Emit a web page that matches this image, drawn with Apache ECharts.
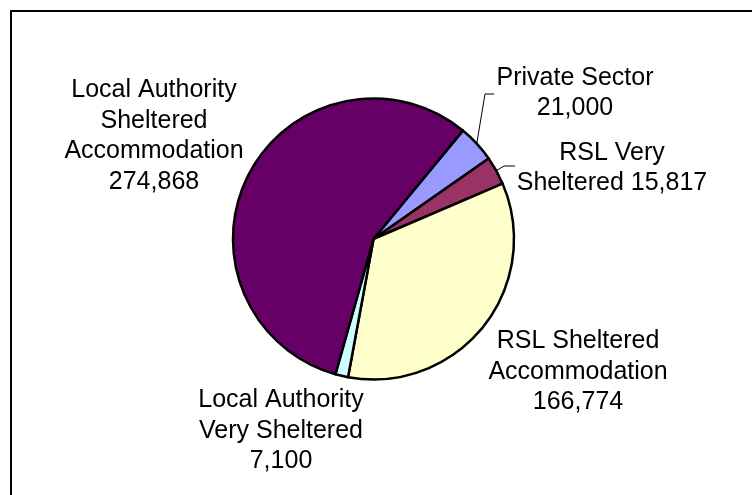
<!DOCTYPE html>
<html>
<head>
	<meta charset="UTF-8" />
	<title>Sheltered accommodation</title>
	<script src="https://cdn.jsdelivr.net/npm/echarts@6.0.0/dist/echarts.min.js"></script>
	<style type="text/css">
		html, body {
			margin: 0;
			padding: 0;
			background-color: #ffffff;
		}

		#chart {
			width: 752px;
			height: 495px;
		}
	</style>
</head>
<body>
	<div id="chart"></div>

	<script>
		// 資料 (順時針, 從 Private Sector 開始)
		const categories = [
			'Private Sector',
			'RSL Very\nSheltered',
			'RSL Sheltered\nAccommodation',
			'Local Authority\nVery Sheltered',
			'Local Authority\nSheltered\nAccommodation'
		];
		const values = [21000, 15817, 166774, 7100, 274868];

		// 樣式
		const colors = ['#9999FF', '#993366', '#FFFFCC', '#CCFFFF', '#660066'];
		// 標籤中心位置
		const labelPos = [[575, 93], [612, 168], [578, 372], [281, 431], [154, 136]];
		// 引線轉折點 (只有前兩個有)
		const leaderPts = [[[485, 94], [494, 94]], [[504, 166], [515, 166]], null, null, null];

		const chart = echarts.init(document.getElementById('chart'));

		chart.setOption({
			animation: false,
			backgroundColor: '#ffffff',
			graphic: [{
				type: 'rect',
				shape: { x: 11, y: 11, width: 800, height: 540 },
				style: { fill: null, stroke: '#000000', lineWidth: 2 },
				silent: true
			}],
			series: [{
				type: 'pie',
				center: [373.5, 239],
				radius: 140.5,
				startAngle: 50.5,
				clockwise: true,
				data: categories.map((name, i) => ({
					name: name,
					value: values[i],
					itemStyle: { color: colors[i] },
					labelLine: { show: leaderPts[i] !== null }
				})),
				itemStyle: {
					borderColor: '#000000',
					borderWidth: 2.5
				},
				emphasis: { disabled: true },
				label: {
					show: true,
					position: 'outside',
					overflow: 'none',
					color: '#000000',
					fontFamily: '"Liberation Sans", Arial, sans-serif',
					fontSize: 25,
					lineHeight: 30.5,
					formatter: (p) => p.name + (p.dataIndex === 1 ? ' ' : '\n') + p.value.toLocaleString('en-US')
				},
				labelLine: {
					lineStyle: { color: '#000000', width: 1 }
				},
				labelLayout: function (params) {
					const i = params.dataIndex;
					const out = {
						x: labelPos[i][0],
						y: labelPos[i][1],
						align: 'center',
						verticalAlign: 'middle'
					};
					if (leaderPts[i] && params.labelLinePoints) {
						out.labelLinePoints = [params.labelLinePoints[0]].concat(leaderPts[i]);
					}
					return out;
				}
			}]
		});
	</script>
</body>
</html>
